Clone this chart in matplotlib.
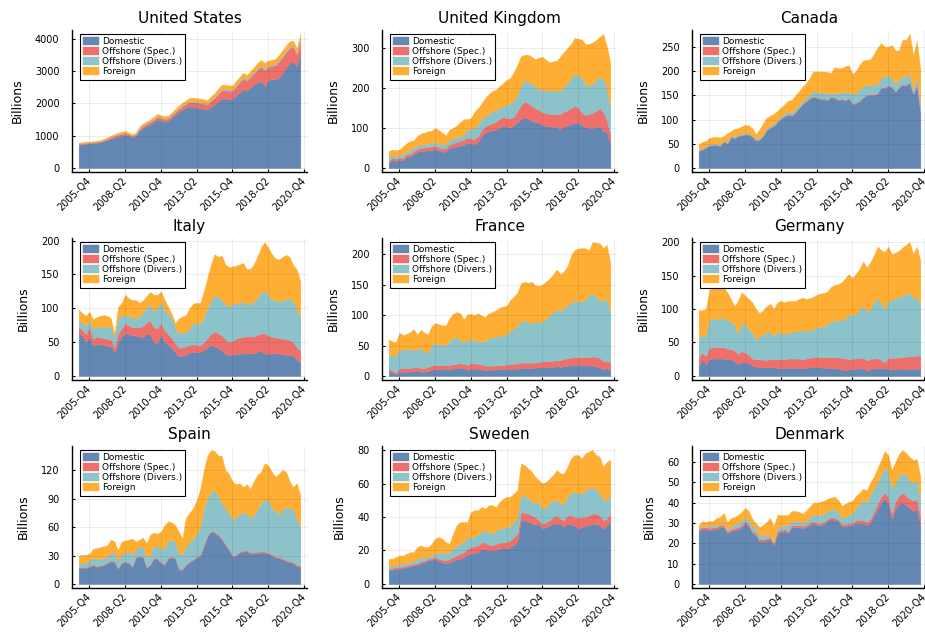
import numpy as np
import matplotlib
matplotlib.use('Agg')
import matplotlib.pyplot as plt

# Quarterly series, 2005-Q1 .. 2020-Q3 (63 quarters), values in billions
quarters = [f'{2005 + k // 4}-Q{k % 4 + 1}' for k in range(63)]
tick_labels = ['2005-Q4', '2008-Q2', '2010-Q4', '2013-Q2', '2015-Q4', '2018-Q2', '2020-Q4']
series_names = ['Domestic', 'Offshore (Spec.)', 'Offshore (Divers.)', 'Foreign']
colors = ['#6388b4', '#ef6f6a', '#8cc2ca', '#ffae34']

countries = ['United States', 'United Kingdom', 'Canada',
             'Italy', 'France', 'Germany',
             'Spain', 'Sweden', 'Denmark']
ytick_step = [1000, 100, 50, 50, 50, 50, 30, 20, 10]

# United States
us_dom = [720, 740, 750, 760, 770, 780, 800, 830, 870, 910,
          950, 980, 1000, 1030, 1000, 950, 1000, 1150, 1250, 1300,
          1350, 1420, 1500, 1470, 1450, 1460, 1550, 1650, 1730, 1800,
          1870, 1900, 1890, 1870, 1850, 1830, 1820, 1900, 1980, 2050,
          2150, 2150, 2140, 2130, 2250, 2350, 2450, 2400, 2480, 2580,
          2650, 2700, 2550, 2720, 2750, 2750, 2800, 2950, 3100, 3250,
          3300, 3150, 3600]
us_spec = [23, 23, 23, 23, 23, 25, 22, 26, 32, 37,
           43, 49, 55, 55, 43, 37, 43, 60, 60, 66,
           71, 77, 88, 76, 70, 76, 82, 87, 99, 110,
           117, 143, 157, 157, 166, 166, 152, 180, 194, 237,
           260, 255, 255, 260, 283, 297, 320, 306, 340, 354,
           402, 440, 478, 412, 407, 430, 488, 488, 488, 465,
           450, 365, 352]
us_div = [12, 12, 12, 12, 12, 13, 13, 14, 15, 16,
          17, 18, 18, 18, 17, 16, 17, 20, 20, 21,
          22, 23, 25, 24, 23, 24, 25, 26, 28, 30,
          30, 32, 33, 33, 34, 34, 33, 35, 36, 38,
          40, 40, 40, 40, 42, 43, 45, 44, 45, 46,
          48, 50, 52, 48, 48, 50, 52, 52, 52, 50,
          50, 45, 48]
us_for = [25, 25, 25, 25, 25, 27, 25, 30, 33, 37,
          40, 43, 47, 47, 40, 37, 40, 50, 50, 53,
          57, 60, 67, 60, 57, 60, 63, 67, 73, 80,
          83, 95, 100, 100, 100, 100, 95, 105, 110, 125,
          130, 125, 125, 120, 125, 130, 135, 130, 135, 140,
          150, 160, 170, 150, 145, 150, 160, 160, 160, 155,
          150, 140, 150]

# United Kingdom
uk_dom = [12, 20, 17, 20, 19, 28, 29, 35, 40, 43,
          43, 44, 45, 47, 44, 40, 42, 50, 52, 54,
          56, 58, 63, 62, 60, 66, 80, 88, 92, 94,
          96, 101, 106, 103, 102, 106, 115, 122, 127, 124,
          117, 115, 113, 108, 105, 104, 103, 102, 97, 103,
          106, 110, 113, 114, 108, 102, 100, 100, 102, 105,
          92, 90, 61]
uk_spec = [6, 6, 6, 6, 6, 6, 6, 7, 8, 8,
           8, 8, 9, 9, 8, 8, 8, 9, 10, 11,
           12, 13, 13, 12, 12, 13, 15, 16, 17, 18,
           20, 22, 22, 22, 22, 22, 28, 35, 40, 38,
           38, 35, 32, 32, 32, 31, 31, 33, 38, 38,
           38, 40, 42, 38, 30, 30, 35, 38, 40, 45,
           48, 30, 22]
uk_div = [8, 7, 7, 7, 8, 8, 9, 9, 8, 8,
          8, 8, 9, 9, 9, 10, 11, 11, 13, 12,
          11, 12, 19, 26, 26, 31, 27, 26, 27, 28,
          29, 27, 27, 33, 38, 40, 42, 48, 52, 55,
          55, 54, 53, 54, 57, 59, 60, 58, 57, 64,
          68, 75, 80, 80, 87, 78, 70, 74, 78, 78,
          85, 78, 67]
uk_for = [16, 13, 14, 13, 21, 20, 23, 18, 24, 27,
          29, 32, 30, 35, 34, 30, 20, 26, 25, 29,
          36, 39, 27, 25, 42, 40, 40, 45, 49, 52,
          51, 55, 57, 62, 63, 72, 73, 75, 64, 66,
          68, 68, 78, 84, 76, 70, 73, 75, 87, 85,
          88, 85, 90, 91, 96, 100, 105, 102, 100, 100,
          110, 107, 112]

# Canada
ca_dom = [35, 38, 42, 46, 47, 47, 45, 55, 50, 64,
          61, 66, 67, 69, 69, 64, 57, 58, 66, 78,
          83, 87, 95, 101, 107, 110, 108, 115, 123, 132,
          137, 143, 147, 145, 142, 142, 140, 146, 145, 140,
          142, 139, 144, 132, 134, 138, 145, 151, 151, 151,
          153, 166, 166, 170, 167, 157, 166, 172, 170, 176,
          152, 172, 115]
ca_spec = [1, 1, 1, 1, 1, 1, 1, 1, 1, 1,
           1, 1, 1, 1, 1, 1, 1, 1, 1, 1,
           1, 1, 1, 1, 1, 1, 1, 1, 1, 1,
           1.5, 1.5, 1.5, 1.5, 1.5, 1.5, 1.5, 1.5, 1.5, 1.5,
           1.5, 1.5, 1.5, 1.5, 1.5, 1.5, 1.5, 1.5, 1.5, 1.5,
           1.5, 1.5, 1.5, 1.5, 1.5, 1.5, 1.5, 1.5, 1.5, 1.5,
           1.5, 1.5, 1.5]
ca_div = [2, 2, 2, 3, 3, 3, 3, 3, 3, 3,
          3, 3, 3, 3, 3, 3, 3, 3, 4, 4,
          4, 4, 4, 4, 5, 5, 5, 6, 6, 6,
          7, 8, 10, 12, 12, 13, 12, 8, 8, 12,
          14, 15, 13, 18, 20, 22, 22, 20, 19, 19,
          19, 19, 20, 20, 18, 15, 16, 16, 17, 18.5,
          8.5, 15.5, 15.5]
ca_for = [11, 13, 11, 12, 13, 13, 14, 7, 18, 8,
          16, 12, 15, 16, 15, 14, 9, 18, 21, 21,
          20, 20, 18, 19, 19, 23, 27, 28, 28, 29,
          30, 33, 41, 41, 44, 43, 45, 41, 54, 53,
          49, 55, 54, 43, 45, 52, 54, 51, 53, 64,
          75, 72, 63, 59, 68, 69.5, 59.5, 75.5, 76.5, 81,
          71, 74, 71]

# Italy
it_dom = [63, 60, 50, 57, 45, 47, 47, 46, 45, 44,
          35, 50, 58, 63, 62, 60, 60, 58, 58, 62,
          62, 50, 48, 62, 50, 46, 42, 35, 29, 30,
          32, 35, 36, 35, 36, 38, 42, 46, 44, 41,
          38, 33, 31, 32, 32, 33, 33, 34, 34, 33,
          36, 37, 33, 33, 33, 34, 33, 32, 31, 31,
          30, 24, 20]
it_spec = [10, 8, 12, 15, 10, 11, 10, 10, 10, 10,
           7, 12, 12, 15, 13, 12, 12, 14, 16, 18,
           20, 22, 22, 16, 18, 16, 14, 13, 13, 12,
           12, 11, 11, 11, 9, 12, 14, 16, 22, 22,
           22, 21, 19, 20, 23, 24, 25, 25, 25, 25,
           25, 26, 30, 27, 25, 23, 23, 23, 24, 22,
           20, 18, 18]
it_div = [10, 10, 12, 10, 15, 14, 16, 16, 19, 18,
          16, 24, 19, 12, 14, 15, 13, 16, 21, 21,
          24, 23, 30, 32, 29, 30, 30, 24, 21, 22,
          22, 24, 30, 34, 31, 38, 44, 50, 54, 54,
          52, 52, 53, 55, 53, 51, 53, 47, 48, 52,
          55, 60, 63, 59, 57, 54, 54, 57, 59, 62,
          60, 58, 49]
it_for = [15, 15, 15, 13, 14, 15, 16, 18, 15, 13,
          4, 16, 19, 30, 26, 25, 27, 20, 17, 17,
          18, 25, 20, 15, 16, 10, 6, 6, 22, 24,
          24, 30, 30, 28, 32, 37, 45, 53, 60, 59,
          66, 59, 58, 55, 55, 57, 56, 52, 51, 55,
          61, 67, 72, 71, 65, 63, 62, 64, 65, 61,
          54, 57, 53]

# France
fr_dom = [8, 6, 3, 7, 7, 7, 7, 8, 9, 7,
          7, 8, 10, 11, 11, 12, 12, 11, 12, 13,
          14, 12, 10, 13, 12, 12, 11, 10, 10, 10,
          11, 11, 11, 12, 12, 12, 12, 13, 13, 13,
          13, 14, 14, 14, 14, 15, 15, 16, 15, 16,
          17, 17, 18, 18, 18, 18, 17, 17, 16, 14,
          11, 13, 10]
fr_spec = [4, 3, 3, 5, 6, 6, 6, 6, 6, 6,
           6, 7, 7, 7, 7, 6, 6, 7, 7, 7,
           7, 8, 8, 8, 9, 8, 8, 7, 7, 7,
           6, 7, 7, 7, 8, 8, 9, 9, 9, 9,
           9, 8, 9, 10, 10, 10, 10, 10, 11, 12,
           12, 13, 13, 13, 13, 13, 14, 15, 15, 16,
           13, 12, 13]
fr_div = [23, 25, 27, 32, 30, 31, 32, 28, 30, 32,
          27, 23, 35, 35, 35, 34, 32, 40, 43, 43,
          40, 34, 41, 39, 37, 38, 38, 40, 45, 47,
          48, 48, 49, 49, 54, 58, 62, 68, 70, 66,
          65, 66, 66, 64, 70, 75, 79, 84, 80, 84,
          87, 90, 93, 91, 92, 94, 102, 104, 99, 95,
          98, 104, 82]
fr_for = [25, 23, 22, 27, 24, 25, 27, 35, 23, 31,
          31, 30, 30, 34, 32, 31, 33, 37, 40, 42,
          42, 39, 42, 42, 42, 45, 42, 40, 41, 41,
          43, 46, 47, 47, 51, 52, 54, 62, 63, 65,
          68, 61, 59, 62, 61, 60, 63, 65, 61, 60,
          64, 78, 83, 87, 87, 85, 73, 84, 89, 93,
          88, 86, 80]

# Germany
de_dom = [15, 25, 17, 25, 26, 26, 26, 26, 25, 25,
          22, 18, 21, 20, 19, 15, 14, 13, 13, 13,
          13, 13, 12, 12, 12, 12, 12, 12, 12, 12,
          12, 13, 13, 13, 13, 12, 12, 12, 12, 11,
          10, 9, 10, 10, 11, 11, 12, 8, 11, 11,
          12, 12, 11, 11, 10, 10, 11, 11, 10, 11,
          11, 10, 12]
de_spec = [13, 10, 13, 17, 17, 17, 17, 17, 16, 15,
           16, 15, 16, 15, 13, 11, 11, 12, 11, 11,
           12, 12, 13, 13, 13, 14, 14, 14, 14, 13,
           14, 14, 15, 16, 15, 16, 16, 16, 16, 17,
           17, 17, 15, 16, 15, 16, 15, 15, 15, 15,
           15, 12, 9, 16, 17, 17, 17, 17, 19, 18,
           19, 20, 19]
de_div = [29, 27, 30, 43, 42, 42, 43, 44, 42, 41,
          40, 30, 43, 41, 38, 39, 30, 34, 38, 41,
          40, 35, 41, 39, 38, 38, 40, 41, 41, 43,
          42, 40, 42, 43, 46, 47, 49, 54, 55, 54,
          57, 60, 67, 64, 68, 72, 78, 73, 74, 84,
          90, 84, 80, 85, 87, 88, 90, 92, 93, 96,
          85, 90, 74]
de_for = [41, 36, 40, 43, 50, 53, 49, 45, 42, 34,
          26, 49, 45, 44, 45, 45, 45, 35, 36, 39,
          43, 40, 44, 48, 47, 48, 46, 45, 48, 49,
          47, 49, 48, 49, 49, 49, 49, 51, 53, 55,
          56, 60, 60, 56, 59, 61, 66, 66, 70, 70,
          76, 80, 85, 81, 68, 69, 69, 72, 74, 75,
          67, 73, 67]

# Spain
es_dom = [17, 17, 17, 18, 20, 18, 19, 20, 22, 24,
          23, 16, 22, 23, 22, 18, 28, 29, 28, 17,
          20, 27, 26, 22, 20, 27, 28, 27, 15, 15,
          20, 23, 25, 28, 30, 40, 50, 55, 54, 51,
          47, 41, 36, 29, 30, 33, 34, 35, 32, 32,
          33, 33, 33, 32, 30, 28, 27, 26, 24, 23,
          22, 19, 18]
es_spec = [0.8, 0.8, 0.8, 0.8, 0.8, 0.8, 0.8, 0.8, 0.8, 0.8,
           0.8, 0.8, 0.8, 0.8, 0.8, 0.8, 0.8, 0.8, 0.8, 0.8,
           1, 1, 1, 1, 1, 1, 1, 1, 1, 1,
           1, 1, 1, 1, 1, 1, 1.2, 1.2, 1.2, 1.2,
           1.2, 1.2, 1.2, 1.2, 1.2, 1.2, 1.2, 1.2, 1.2, 1.2,
           1.2, 1.2, 1.2, 1.2, 1.2, 1.2, 1.2, 1.2, 1.2, 1.2,
           1.2, 1.2, 1.2]
es_div = [4, 4, 5, 6, 7, 7, 7, 7, 6, 8,
          10, 8, 9, 9, 12, 12, 8, 9, 11, 10,
          10, 12, 13, 15, 16, 17, 18, 17, 17, 15,
          19, 20, 22, 24, 29, 39, 39, 41, 43, 41,
          37, 38, 38, 38, 39, 40, 40, 38, 37, 39,
          45, 51, 54, 56, 49, 48, 45, 53, 55, 56,
          56, 48, 41]
es_for = [8, 9, 8, 7, 9, 12, 12, 12, 12, 14,
          11, 11, 13, 13, 12, 17, 8, 8, 9, 15,
          21, 14, 13, 17, 25, 21, 18, 17, 22, 17,
          30, 31, 32, 35, 40, 40, 45, 44, 42, 42,
          50, 40, 41, 40, 35, 32, 27, 31, 30, 36,
          36, 33, 39, 36, 38, 36, 43, 40, 38, 28,
          23, 38, 33]

# Sweden
se_dom = [8, 8.5, 9, 9, 9.5, 10, 10.5, 11, 11.5, 12.5,
          13, 14, 14.5, 15, 13.5, 13, 12.5, 13, 14, 15,
          15, 16, 18, 18, 18.5, 19, 21, 21, 20, 20,
          20.5, 21, 22, 21, 22, 23.5, 25, 38, 38, 37,
          36.5, 35, 36, 33, 34, 35, 36, 36, 36, 34,
          36, 35.5, 35, 33, 34, 35, 35, 36, 36, 35,
          33, 35, 37]
se_spec = [1, 1, 1, 1, 1, 1, 1, 1, 1, 1,
           1, 1, 1, 1, 1.5, 1.5, 1.5, 2, 2, 2,
           3, 3, 3, 4, 4, 4, 4, 3.5, 3.5, 3,
           3.5, 3.5, 3, 4, 4, 4.5, 5, 5, 4.5, 5,
           4.5, 5, 2, 3, 3, 3, 4, 5, 3, 4,
           5, 5.5, 5, 6.5, 6, 5, 6, 6, 6, 6,
           5, 4, 5]
se_div = [2, 1.5, 1, 2, 1.5, 1.5, 1.5, 2, 2.5, 2.5,
          1.5, 1.5, 1.5, 2, 4, 4.5, 4, 4, 5, 6,
          6, 6, 7, 6, 5.5, 7, 6, 7.5, 7.5, 7,
          8, 8.5, 8.5, 9, 9, 9, 10, 10, 10.5, 9,
          8, 9, 10, 9, 9, 10, 10, 9, 9, 10,
          11, 14, 15, 14.5, 14, 16, 16, 16, 14, 13,
          12, 11, 11]
se_for = [4, 4, 5, 5, 5, 5.5, 6, 5, 7, 7,
          6.5, 5.5, 7, 9, 9, 8, 7, 5, 9, 12,
          13, 12, 9, 15, 16, 14, 15, 13, 16, 17,
          14, 16, 17.5, 18, 17, 17, 16, 19, 18, 18,
          18, 15, 14, 15, 15, 15, 15, 18, 18, 18,
          18, 20, 22, 23, 21, 22, 22, 22, 21, 22,
          20, 23, 21]

# Denmark
dk_dom = [26, 27, 27, 26.5, 27, 27, 28, 28, 25, 26,
          26.5, 27, 28, 30, 28.5, 25, 24, 21, 21, 21.5,
          22, 19, 25, 25.5, 26, 25, 28, 28, 28, 27.5,
          28, 29, 30, 29, 29, 29.5, 31, 32, 31.5, 31,
          28.5, 28.5, 29, 29, 30, 30, 30, 29, 30, 34,
          37, 40, 42, 40, 32, 37, 39.5, 40, 39, 37.5,
          36, 37, 29]
dk_spec = [1, 1, 1, 1, 1, 1, 1, 1, 1, 1,
           1, 1, 1, 1, 1, 1, 1, 1, 1, 1,
           1, 1, 1, 1, 1, 1, 1, 1, 1, 1,
           1, 1, 1, 1, 1, 1, 1, 1, 1, 1,
           1, 1, 1, 1, 1.5, 1.5, 1.5, 1.5, 2, 2,
           2.5, 3, 3, 3, 2.5, 3.5, 4, 5, 4.5, 4.5,
           5, 5, 4]
dk_div = [1, 0.5, 0.5, 1, 1, 1, 0.5, 1, 1, 1.5,
          1.5, 2, 2, 2, 1.5, 3, 2, 2, 2, 1.5,
          1, 0.5, 2, 2, 2, 3, 2, 2, 1.5, 1.5,
          2, 3, 3, 4, 4, 4, 4, 3.5, 4.5, 3.5,
          3, 3.5, 4, 5, 6, 7.5, 10.5, 9.5, 12, 11,
          10.5, 11, 12.5, 12, 12.5, 9.5, 9.5, 10, 10, 9,
          9, 9, 9]
dk_for = [1, 2.5, 2, 2.5, 2, 3.5, 3.5, 5, 3.5, 4,
          4, 4, 4.5, 4.5, 5, 3, 3, 4, 5, 6.5,
          8.5, 8, 6, 5.5, 5, 5, 5, 5, 5, 4.5,
          5, 5, 6, 6, 6.5, 6.5, 6, 6, 6, 6,
          6, 6.5, 6.5, 6, 6, 6, 5, 6, 6, 6,
          7, 7, 8, 8.5, 9, 10, 11, 11, 11, 11.5,
          11, 10.5, 11]

data = {
    'United States': (us_dom, us_spec, us_div, us_for),
    'United Kingdom': (uk_dom, uk_spec, uk_div, uk_for),
    'Canada': (ca_dom, ca_spec, ca_div, ca_for),
    'Italy': (it_dom, it_spec, it_div, it_for),
    'France': (fr_dom, fr_spec, fr_div, fr_for),
    'Germany': (de_dom, de_spec, de_div, de_for),
    'Spain': (es_dom, es_spec, es_div, es_for),
    'Sweden': (se_dom, se_spec, se_div, se_for),
    'Denmark': (dk_dom, dk_spec, dk_div, dk_for),
}


def quarter_pos(label):
    year, q = label.split('-Q')
    return (int(year) - 2005) * 4 + int(q) - 1


plt.rcParams['font.family'] = ['DejaVu Sans']

W, H = 925, 633
fig = plt.figure(figsize=(W / 100, H / 100), dpi=100)

col_left = [72, 382, 692]
row_top = [30, 238, 446]
ax_w, ax_h = 235, 142

x = np.arange(len(quarters))
tick_pos = [quarter_pos(t) for t in tick_labels]

for k, country in enumerate(countries):
    r, c = divmod(k, 3)
    ax = fig.add_axes([col_left[c] / W, 1 - (row_top[r] + ax_h) / H, ax_w / W, ax_h / H])
    layers = [np.asarray(s, dtype=float) for s in data[country]]
    ax.stackplot(x, *layers, colors=colors, labels=series_names,
                 edgecolor='face', linewidth=0.3)

    top = np.sum(layers, axis=0).max()
    span_x = x[-1] - x[0]
    ax.set_xlim(x[0] - 0.03 * span_x, x[-1] + 0.03 * span_x)
    ax.set_ylim(-0.03 * top, 1.03 * top)

    ax.set_xticks(tick_pos)
    ax.set_xticklabels(tick_labels, rotation=45, ha='right', va='center',
                       rotation_mode='anchor', fontsize=7)
    ax.set_yticks(np.arange(0, top * 1.03, ytick_step[k]))
    ax.tick_params(axis='y', labelsize=7, pad=9)
    ax.tick_params(axis='x', pad=5)
    ax.tick_params(direction='in', length=2.5, width=0.8, color='black')

    ax.grid(True, color='black', alpha=0.1, linewidth=0.5)
    ax.set_axisbelow(False)
    for side in ('top', 'right'):
        ax.spines[side].set_visible(False)
    for side in ('left', 'bottom'):
        ax.spines[side].set_linewidth(1.0)

    ax.set_title(country, fontsize=11, pad=5)
    ax.set_ylabel('Billions', fontsize=9, labelpad=8)

    leg = ax.legend(loc='upper left', bbox_to_anchor=(8 / ax_w, 1 - 4 / ax_h),
                    borderaxespad=0, fontsize=6.5, frameon=True, fancybox=False,
                    edgecolor='black', framealpha=1, handlelength=1.8,
                    handleheight=1.0, handletextpad=0.3, labelspacing=0.1,
                    borderpad=0.35)
    leg.get_frame().set_linewidth(0.8)

fig.savefig('out.png', dpi=100)
